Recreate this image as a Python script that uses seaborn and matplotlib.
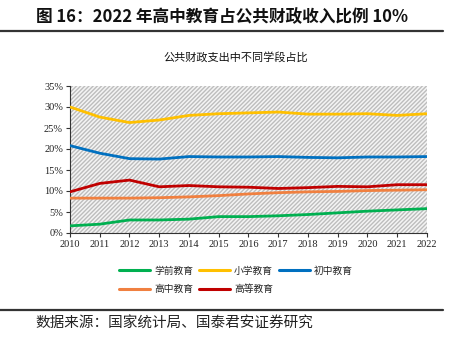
import matplotlib
matplotlib.use("Agg")
import matplotlib.pyplot as plt
import seaborn as sns
import pandas as pd
from matplotlib.patches import Rectangle
from matplotlib.lines import Line2D
from matplotlib.ticker import FuncFormatter

years = list(range(2010, 2023))
preschool = [1.7, 2.1, 3.1, 3.1, 3.3, 3.9, 3.9, 4.1, 4.4, 4.8, 5.2, 5.5, 5.8]
primary = [30.0, 27.6, 26.3, 26.9, 28.0, 28.4, 28.6, 28.8, 28.3, 28.3, 28.4, 28.0, 28.4]
junior = [20.8, 19.0, 17.7, 17.6, 18.2, 18.1, 18.1, 18.2, 18.0, 17.9, 18.1, 18.1, 18.2]
senior = [8.3, 8.3, 8.3, 8.4, 8.6, 8.9, 9.3, 9.6, 9.8, 9.9, 10.1, 10.2, 10.3]
higher = [9.8, 11.8, 12.6, 11.0, 11.3, 11.0, 10.9, 10.6, 10.8, 11.1, 11.0, 11.5, 11.5]

names = ["学前教育", "小学教育", "初中教育", "高中教育", "高等教育"]
colors = ["#00B050", "#FFC000", "#0070C0", "#F08040", "#C00000"]
series = [preschool, primary, junior, senior, higher]

title = "图 16：2022 年高中教育占公共财政收入比例 10%"
subtitle = "公共财政支出中不同学段占比"
source = "数据来源：国家统计局、国泰君安证券研究"

rows = []
for n, vals in zip(names, series):
    for y, v in zip(years, vals):
        rows.append({"year": y, "value": v, "series": n})
df = pd.DataFrame(rows)

sns.set_style("white")
plt.rcParams["font.family"] = ["Noto Sans CJK SC", "DejaVu Sans"]
plt.rcParams["hatch.linewidth"] = 1.0

W, H = 452, 343
fig = plt.figure(figsize=(W / 100, H / 100), dpi=100)

ax = fig.add_axes([70 / W, 1 - 233 / H, (427 - 70) / W, (233 - 86) / H])
ax.add_patch(Rectangle((0, 0), 1, 1, transform=ax.transAxes, facecolor="#f4f4f4",
                       edgecolor="#bdbdbd", hatch="////////", linewidth=0, zorder=0))

sns.lineplot(data=df, x="year", y="value", hue="series", hue_order=names,
             palette=colors, linewidth=2.0, ax=ax, legend=False, zorder=3)

ax.set_xlim(2010, 2022)
ax.set_ylim(0, 35)
ax.set_xticks(years)
ax.set_yticks(range(0, 36, 5))
ax.yaxis.set_major_formatter(FuncFormatter(lambda v, p: f"{int(v)}%"))
ax.set_xlabel("")
ax.set_ylabel("")
for lab in ax.get_xticklabels() + ax.get_yticklabels():
    lab.set_fontfamily("Liberation Serif")
    lab.set_fontsize(7.5)
    lab.set_color("#222222")
ax.tick_params(axis="both", which="major", length=3, width=0.8, color="#333333",
               direction="out", pad=2, bottom=True, left=True)
for s in ["top", "right"]:
    ax.spines[s].set_visible(False)
for s in ["left", "bottom"]:
    ax.spines[s].set_color("#333333")
    ax.spines[s].set_linewidth(0.8)
ax.set_facecolor("white")

# legend (row-wise order with 3 columns)
handles = [Line2D([0], [0], color=c, lw=2.2) for c in colors]
order = [0, 3, 1, 4, 2]
fig.legend([handles[i] for i in order], [names[i] for i in order], ncol=3,
           loc="center", bbox_to_anchor=(236 / W, 1 - 280 / H), frameon=False,
           fontsize=7, handlelength=3.2, columnspacing=0.6, handletextpad=0.4,
           labelspacing=0.9)

fig.text(0.5 - 4 / W, 1 - 17 / H, title, ha="center", va="center", fontsize=12,
         fontweight="bold", color="#111111")
fig.text(236 / W, 1 - 57 / H, subtitle, ha="center", va="center", fontsize=8,
         color="#111111")
fig.text(35 / W, 1 - 324 / H, source, ha="left", va="center", fontsize=10.5,
         color="#222222")

fig.add_artist(Line2D([0, 443 / W], [1 - 31 / H, 1 - 31 / H], color="#333333",
                      lw=1.6, transform=fig.transFigure))
fig.add_artist(Line2D([0, 443 / W], [1 - 310 / H, 1 - 310 / H], color="#333333",
                      lw=1.6, transform=fig.transFigure))

fig.savefig("out.png", dpi=100)
